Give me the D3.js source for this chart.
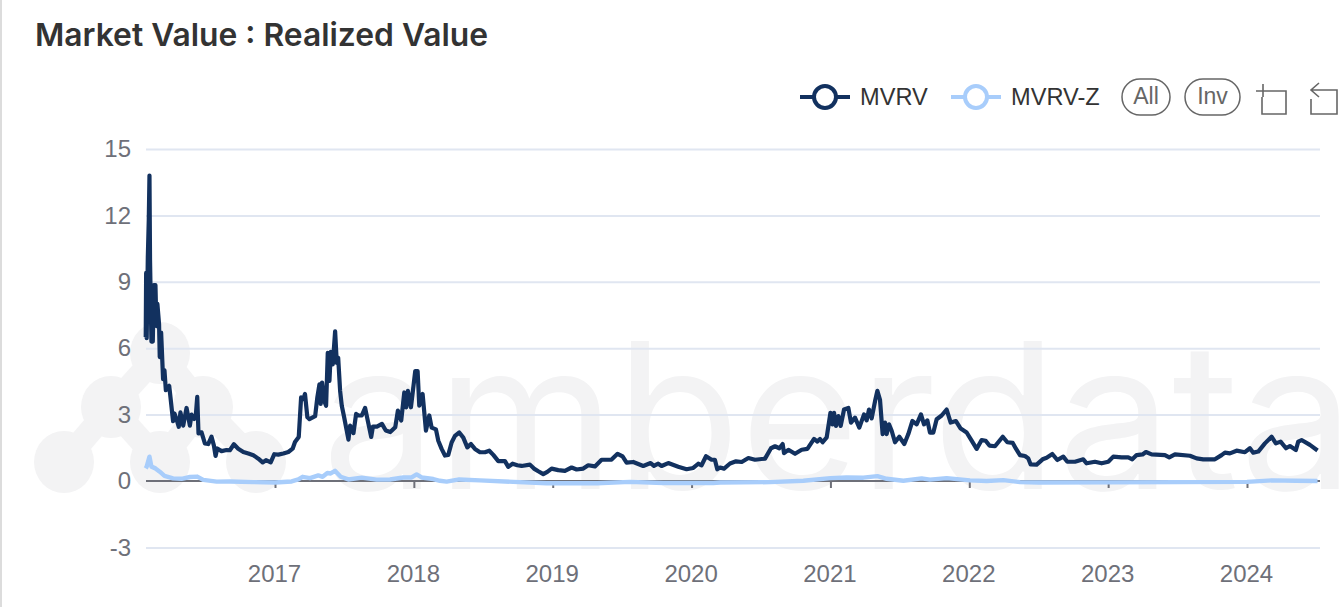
<!DOCTYPE html>
<html>
<head>
<meta charset="utf-8">
<script src="https://cdn.jsdelivr.net/npm/d3@7"></script>
<style>
body { margin: 0; background: #fff; overflow: hidden; }
text { font-family: "Liberation Sans", Arial, sans-serif; }
</style>
</head>
<body>
<div id="viz"></div>
<script>
// values, x is a decimal year
var mvrvYears = [
	2016.069,2016.072,2016.076,2016.084,2016.091,2016.096,2016.100,2016.110,2016.120,2016.127,
	2016.139,2016.146,2016.153,2016.165,2016.170,2016.180,2016.194,2016.204,2016.214,2016.238,
	2016.247,2016.266,2016.276,2016.295,2016.307,2016.319,2016.339,2016.363,2016.387,2016.399,
	2016.418,2016.430,2016.440,2016.449,2016.471,2016.495,2016.519,2016.543,2016.560,2016.572,
	2016.584,2016.615,2016.651,2016.675,2016.704,2016.735,2016.772,2016.808,2016.844,2016.880,
	2016.911,2016.935,2016.969,2016.995,2017.024,2017.060,2017.096,2017.127,2017.144,2017.171,
	2017.188,2017.204,2017.216,2017.233,2017.248,2017.289,2017.305,2017.320,2017.329,2017.339,
	2017.354,2017.368,2017.380,2017.392,2017.402,2017.416,2017.433,2017.445,2017.455,2017.469,
	2017.481,2017.498,2017.529,2017.541,2017.565,2017.584,2017.601,2017.625,2017.649,2017.673,
	2017.693,2017.705,2017.734,2017.770,2017.798,2017.830,2017.866,2017.885,2017.909,2017.931,
	2017.945,2017.957,2017.979,2017.993,2018.010,2018.027,2018.039,2018.063,2018.087,2018.111,
	2018.128,2018.159,2018.176,2018.200,2018.224,2018.248,2018.272,2018.296,2018.327,2018.356,
	2018.385,2018.411,2018.440,2018.476,2018.512,2018.543,2018.572,2018.608,2018.656,2018.680,
	2018.711,2018.745,2018.776,2018.836,2018.865,2018.896,2018.932,2018.961,2018.992,2019.040,
	2019.088,2019.136,2019.172,2019.220,2019.256,2019.304,2019.352,2019.424,2019.467,2019.503,
	2019.532,2019.580,2019.652,2019.705,2019.729,2019.760,2019.784,2019.832,2019.904,2019.964,
	2020.012,2020.048,2020.072,2020.104,2020.144,2020.168,2020.185,2020.205,2020.234,2020.277,
	2020.320,2020.361,2020.409,2020.457,2020.529,2020.572,2020.601,2020.632,2020.656,2020.666,
	2020.697,2020.745,2020.793,2020.834,2020.882,2020.906,2020.925,2020.944,2020.973,2021.000,
	2021.014,2021.026,2021.040,2021.057,2021.074,2021.098,2021.129,2021.148,2021.177,2021.208,
	2021.242,2021.261,2021.278,2021.297,2021.321,2021.338,2021.357,2021.376,2021.393,2021.405,
	2021.422,2021.441,2021.465,2021.496,2021.532,2021.561,2021.590,2021.621,2021.652,2021.674,
	2021.698,2021.717,2021.741,2021.765,2021.801,2021.837,2021.866,2021.904,2021.938,2021.981,
	2022.017,2022.053,2022.089,2022.118,2022.145,2022.185,2022.241,2022.274,2022.313,2022.337,
	2022.365,2022.401,2022.425,2022.442,2022.485,2022.528,2022.557,2022.598,2022.634,2022.677,
	2022.706,2022.761,2022.821,2022.845,2022.905,2022.953,2023.001,2023.037,2023.097,2023.145,
	2023.174,2023.205,2023.248,2023.272,2023.313,2023.409,2023.440,2023.481,2023.589,2023.637,
	2023.685,2023.769,2023.817,2023.841,2023.877,2023.925,2023.985,2024.021,2024.045,2024.081,
	2024.129,2024.177,2024.208,2024.242,2024.281,2024.309,2024.352,2024.369,2024.393,2024.453,
	2024.508];
var mvrvValues = [
	6.5,9.4,6.45,10.1,11.8,13.8,10,6.3,6.3,8.85,
	8.85,7,8,7.1,5.6,6.7,4.6,5,4.1,4.3,
	3.8,2.7,3.05,2.7,2.45,3.1,2.5,3.3,2.5,3,
	2.8,3,3.8,2.15,2.2,1.7,1.67,2,1.6,1.13,
	1.47,1.35,1.4,1.39,1.66,1.46,1.31,1.24,1.16,1.01,
	0.84,0.94,0.84,1.21,1.19,1.24,1.31,1.46,1.76,1.99,
	3.78,3.7,3.93,2.88,2.8,2.93,3.78,4.37,3.48,4.45,
	3.63,3.4,5.79,4.52,5.84,5.27,6.76,5.34,5.57,4.07,
	3.4,2.88,1.87,2.5,2.16,3.03,2.96,2.96,3.3,2.58,
	1.99,2.46,2.46,2.58,2.28,2.21,2.43,3.18,2.73,4,
	3.33,4.07,3.33,4.07,4.97,4.97,3.4,3.93,2.28,2.96,
	2.41,2.33,1.82,1.45,1.15,1.18,1.74,2.04,2.19,1.96,
	1.52,1.67,1.45,1.3,1.3,1.37,1.18,0.9,0.9,0.64,
	0.78,0.71,0.68,0.74,0.56,0.44,0.31,0.41,0.56,0.49,
	0.46,0.61,0.52,0.56,0.71,0.66,0.96,0.97,1.23,1.11,
	0.83,0.86,0.68,0.81,0.68,0.78,0.68,0.81,0.64,0.53,
	0.59,0.78,0.71,1.12,0.96,0.96,0.53,0.61,0.56,0.79,
	0.89,0.86,1.04,0.96,1.01,1.48,1.57,1.48,1.67,1.26,
	1.41,1.23,1.41,1.45,1.9,1.78,1.9,1.75,1.97,3.08,
	2.56,3.08,2.49,2.93,2.49,3.23,3.3,2.64,2.86,2.41,
	3.01,2.74,3.23,2.83,3.6,4.07,3.67,2.12,2.64,2.12,
	2.56,2.27,1.75,2,1.67,2.12,2.71,2.56,3.01,2.56,
	2.74,2.19,2.19,2.79,2.96,3.23,2.64,2.71,2.37,2.19,
	1.82,1.45,1.85,1.82,1.6,1.57,2,1.75,1.72,1.45,
	1.17,1.13,1.02,0.75,0.74,0.98,1.05,1.22,0.95,1.1,
	0.87,0.87,0.98,0.8,0.87,0.8,0.87,1.1,1.07,1.07,
	0.98,1.17,1.2,1.31,1.2,1.17,1.07,1.2,1.14,1.02,
	0.98,0.98,1.17,1.28,1.25,1.37,1.3,1.48,1.28,1.33,
	1.7,2,1.7,1.78,1.48,1.58,1.4,1.78,1.85,1.63,
	1.38];

var zYears = [
	2016.069,2016.076,2016.096,2016.110,2016.139,2016.170,2016.204,2016.266,2016.327,2016.387,
	2016.440,2016.483,2016.580,2016.676,2016.844,2017.000,2017.120,2017.168,2017.199,2017.252,
	2017.312,2017.343,2017.377,2017.401,2017.432,2017.473,2017.528,2017.624,2017.732,2017.828,
	2017.924,2017.984,2018.020,2018.056,2018.140,2018.188,2018.236,2018.327,2018.476,2018.716,
	2018.956,2019.320,2019.556,2019.796,2020.156,2020.205,2020.565,2020.805,2021.000,2021.117,
	2021.237,2021.338,2021.405,2021.525,2021.657,2021.717,2021.837,2022.005,2022.125,2022.245,
	2022.365,2022.500,2023.000,2023.500,2024.000,2024.180,2024.350,2024.508];
var zValues = [
	0.57,0.65,1.1,0.65,0.57,0.42,0.23,0.12,0.1,0.18,
	0.2,0.05,-0.03,-0.02,-0.05,-0.07,-0.02,0.07,0.19,0.13,
	0.25,0.19,0.36,0.34,0.46,0.19,0.07,0.15,0.06,0.07,
	0.16,0.16,0.3,0.16,0.09,0.01,-0.03,0.07,0.03,-0.04,
	-0.1,-0.1,-0.04,-0.09,-0.09,-0.07,-0.05,0.01,0.13,0.16,
	0.15,0.22,0.1,0.01,0.12,0.06,0.13,0.03,0,0.04,
	-0.05,-0.07,-0.06,-0.05,-0.04,0.03,0.01,0];

var yTicks = [-3,0,3,6,9,12,15];
var yearTicks = [2017,2018,2019,2020,2021,2022,2023,2024];
var legendNames = ["MVRV","MVRV-Z"];
var legendColors = ["#12315f","#a8cdfb"];

var svg = d3.select("#viz")
	.append("svg")
	.attr("width",1340)
	.attr("height",607);

var x = d3.scaleLinear().domain([2017,2024]).range([275,1247]);
var y = d3.scaleLinear().domain([0,15]).range([481,149]);
var left = 146, right = 1320;

// left edge of the page
svg.append("rect").attr("width",2).attr("height",607).attr("fill","#dcdcdc");

// watermark
var wm = svg.append("g").attr("fill","#f3f3f4").attr("stroke","#f3f3f4");
var logoNodes = [[160,353],[111,407],[203,407],[64,462],[160,462],[256,462]];
var logoLinks = [[0,1],[0,2],[1,3],[1,4],[2,4],[2,5]];
wm.selectAll("line").data(logoLinks).enter().append("line")
	.attr("x1",function(d){return logoNodes[d[0]][0]})
	.attr("y1",function(d){return logoNodes[d[0]][1]})
	.attr("x2",function(d){return logoNodes[d[1]][0]})
	.attr("y2",function(d){return logoNodes[d[1]][1]})
	.attr("stroke-width",24);
wm.selectAll("ellipse").data(logoNodes).enter().append("ellipse")
	.attr("cx",function(d){return d[0]})
	.attr("cy",function(d){return d[1]})
	.attr("rx",30)
	.attr("ry",31)
	.attr("stroke","none");
svg.append("text")
	.attr("x",322)
	.attr("y",489)
	.attr("fill","#f3f3f4")
	.style("font-family","Inter")
	.style("font-size","204px")
	.style("font-weight",400)
	.text("amberdata");

// title
svg.append("text")
	.attr("x",35)
	.attr("y",46)
	.attr("fill","#333")
	.style("font-family","Inter")
	.style("font-size","31.8px")
	.style("font-weight",600)
	.text("Market Value : Realized Value");

// y axis and grid
var yAxis = svg.append("g")
	.attr("transform","translate("+left+",0)")
	.call(d3.axisLeft(y).tickValues(yTicks).tickFormat(String).tickSize(0).tickPadding(15));
yAxis.select(".domain").remove();
yAxis.selectAll("text")
	.attr("fill","#6e7079")
	.style("font-size","24px")
	.style("font-family","Liberation Sans");
yAxis.selectAll("line")
	.attr("x2",right-left)
	.attr("stroke","#e0e6f1")
	.attr("stroke-width",2)
	.attr("opacity",function(d){return d === 0 ? 0 : 1});

// x axis sits on zero
var xAxis = svg.append("g")
	.attr("transform","translate(0,"+y(0)+")")
	.call(d3.axisBottom(x).tickValues(yearTicks).tickFormat(d3.format("d")).tickSize(7).tickPadding(0).tickSizeOuter(0));
xAxis.select(".domain")
	.attr("d","M"+left+",0H"+right)
	.attr("stroke","#6e7079")
	.attr("stroke-width",2);
xAxis.selectAll("line").attr("stroke","#6e7079").attr("stroke-width",2);
xAxis.selectAll("text")
	.attr("y",101)
	.attr("dy",0)
	.attr("x",-1)
	.attr("fill","#6e7079")
	.style("font-size","24px")
	.style("font-family","Liberation Sans");

// lines
var line = d3.line()
	.x(function(d){return x(d[0])})
	.y(function(d){return y(d[1])});

svg.append("path")
	.attr("d",line(d3.zip(mvrvYears,mvrvValues)))
	.attr("fill","none")
	.attr("stroke",legendColors[0])
	.attr("stroke-width",4.2)
	.attr("stroke-linejoin","round");
svg.append("path")
	.attr("d",line(d3.zip(zYears,zValues)))
	.attr("fill","none")
	.attr("stroke",legendColors[1])
	.attr("stroke-width",4.4)
	.attr("stroke-linejoin","round");

// legend
var legendX = [800,951], legendTextX = [860,1011];
var legend = svg.selectAll(".legend").data(legendNames).enter().append("g")
	.attr("class","legend")
	.attr("transform",function(d,i){return "translate("+legendX[i]+",97)"});
legend.append("line")
	.attr("x2",50)
	.attr("stroke",function(d,i){return legendColors[i]})
	.attr("stroke-width",4);
legend.append("circle")
	.attr("cx",25)
	.attr("r",11)
	.attr("fill","#fff")
	.attr("stroke",function(d,i){return legendColors[i]})
	.attr("stroke-width",4);
legend.append("text")
	.attr("x",function(d,i){return legendTextX[i]-legendX[i]})
	.attr("y",8)
	.attr("fill","#333")
	.style("font-size","23.6px")
	.text(function(d){return d});

// All / Inv buttons
var btnNames = ["All","Inv"], btnX = [1122,1185], btnW = [48,55];
var btn = svg.selectAll(".btn").data(btnNames).enter().append("g").attr("class","btn");
btn.append("rect")
	.attr("x",function(d,i){return btnX[i]})
	.attr("y",79)
	.attr("width",function(d,i){return btnW[i]})
	.attr("height",36)
	.attr("rx",18)
	.attr("fill","#fff")
	.attr("stroke","#666")
	.attr("stroke-width",1.5);
btn.append("text")
	.attr("x",function(d,i){return btnX[i]+btnW[i]/2})
	.attr("y",104)
	.attr("text-anchor","middle")
	.attr("fill","#666")
	.style("font-size","23px")
	.text(function(d){return d});

// toolbox icons
svg.append("path")
	.attr("d","M1256,91H1270M1263,84V97M1270,91H1286V114H1262V97")
	.attr("fill","none").attr("stroke","#666").attr("stroke-width",1.6);
svg.append("path")
	.attr("d","M1319,83L1311,90L1319,97M1311,90H1337V114H1311V99")
	.attr("fill","none").attr("stroke","#666").attr("stroke-width",1.6);
</script>
</body>
</html>
